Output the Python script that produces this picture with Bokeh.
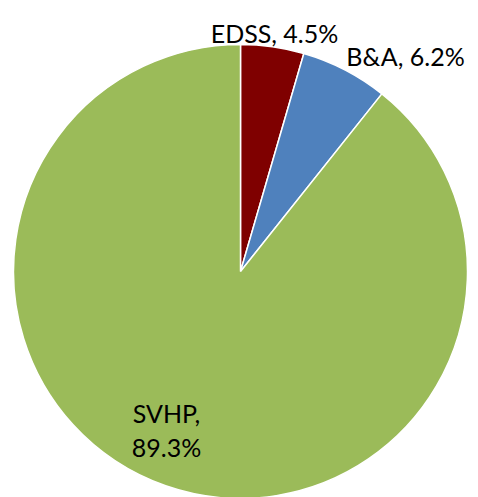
import math
from bokeh.plotting import figure
from bokeh.models import Range1d, ColumnDataSource
from bokeh.core.properties import value
from bokeh.embed import file_html
from bokeh.resources import INLINE

# data
categories = ["EDSS", "B&A", "SVHP"]
shares = [4.5, 6.2, 89.3]
colors = ["#7F0000", "#4F81BD", "#9BBB59"]

# layout (screen-like coordinates: data x = page x, data y = -page y)
W, H = 478, 497
cx, cy, r = 240, -271, 227

total = sum(shares)
starts, ends = [], []
a = math.pi / 2
for s in shares:
    starts.append(a)
    a -= s / total * 2 * math.pi
    ends.append(a)

src = ColumnDataSource(dict(cat=categories, val=shares, color=colors,
                            start=starts, end=ends))

p = figure(width=W, height=H, output_backend="svg", toolbar_location=None,
           x_range=Range1d(0, W), y_range=Range1d(-H, 0),
           min_border=0, outline_line_color=None)
p.axis.visible = False
p.grid.visible = False
p.background_fill_color = "white"

p.wedge(x=cx, y=cy, radius=r, start_angle="start", end_angle="end",
        direction="clock", fill_color="color", line_color="white",
        line_width=1.5, source=src)

# labels
font = value("Lato")
size = "25px"
lab_text = [f"{c}, {v:.1f}%" for c, v in zip(categories[:2], shares[:2])]
p.text(x=[274, 405], y=[-32, -55], text=lab_text, text_align="center",
       text_baseline="alphabetic", text_font=font,
       text_font_size=size, text_color="black")
p.text(x=[166, 166], y=[-412, -446],
       text=[f"{categories[2]},", f"{shares[2]:.1f}%"], text_align="center",
       text_baseline="alphabetic", text_font=font,
       text_font_size=size, text_color="black")

open("out.html", "w").write(file_html(p, INLINE))
